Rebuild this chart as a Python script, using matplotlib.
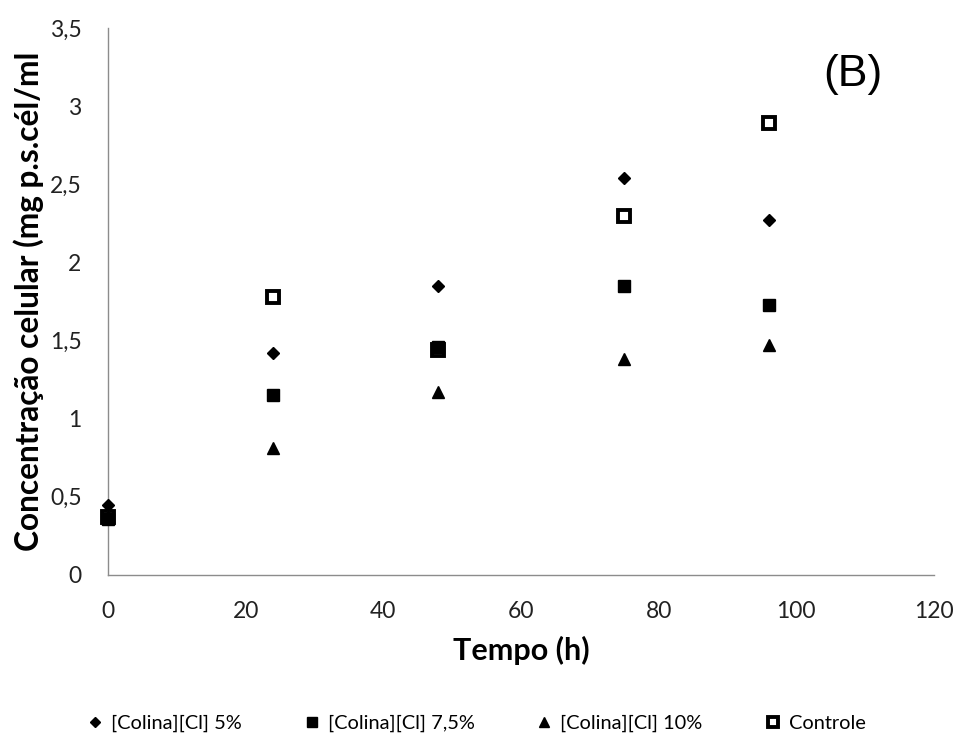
import matplotlib
matplotlib.use("Agg")
import matplotlib.pyplot as plt
import matplotlib.ticker as ticker

# dados (B)
tempo = [0, 24, 48, 75, 96]
colina5 = [0.45, 1.42, 1.85, 2.54, 2.27]
colina75 = [0.36, 1.15, 1.46, 1.85, 1.73]
colina10 = [0.38, 0.81, 1.17, 1.38, 1.47]
controle = [0.37, 1.78, 1.44, 2.30, 2.89]

rotulos = ["[Colina][Cl] 5%", "[Colina][Cl] 7,5%", "[Colina][Cl] 10%", "Controle"]

plt.rcParams["font.family"] = ["Lato", "DejaVu Sans"]

fig = plt.figure(figsize=(9.58, 7.38), dpi=100)
ax = fig.add_axes([0.1127, 0.2209, 0.8622, 0.7412])

ax.plot(tempo, colina5, ls="none", marker="D", ms=6, c="k", zorder=3, clip_on=False,
        label=rotulos[0])
ax.plot(tempo, colina75, ls="none", marker="s", ms=8.5, c="k", zorder=3, clip_on=False,
        label=rotulos[1])
ax.plot(tempo, colina10, ls="none", marker="^", ms=9, c="k", zorder=3, clip_on=False,
        label=rotulos[2])
ax.plot(tempo, controle, ls="none", marker="s", ms=9, mfc="white", mec="k", mew=2.8,
        zorder=2, clip_on=False, label=rotulos[3])

ax.set_xlim(0, 120)
ax.set_ylim(0, 3.5)
ax.xaxis.set_major_locator(ticker.MultipleLocator(20))
ax.yaxis.set_major_locator(ticker.MultipleLocator(0.5))
ax.yaxis.set_major_formatter(ticker.FuncFormatter(lambda v, p: f"{v:g}".replace(".", ",")))

for s in ["top", "right"]:
    ax.spines[s].set_visible(False)
for s in ["left", "bottom"]:
    ax.spines[s].set_color("#8c8c8c")
    ax.spines[s].set_linewidth(1.0)

ax.tick_params(axis="both", length=0, labelsize=16.5, colors="#222222")
ax.tick_params(axis="y", pad=19)
ax.tick_params(axis="x", pad=19)

ax.set_xlabel("Tempo (h)", fontsize=22, fontweight="bold", labelpad=10)
ax.set_ylabel("Concentração celular (mg p.s.cél/ml", fontsize=22.8, fontweight="bold")
ax.yaxis.set_label_coords(-0.096, 0.5)
ax.yaxis.label.set_va("center")

ax.text(0.902, 0.915, "(B)", transform=ax.transAxes, fontsize=32,
        family="Liberation Sans", ha="center", va="center")

fig.legend(loc="center", bbox_to_anchor=(0.497, 0.02), ncol=4, frameon=False,
           fontsize=14.4, handlelength=0.8, handletextpad=0.4, columnspacing=3.1,
           markerscale=0.85)

fig.savefig("out.png", dpi=100)
